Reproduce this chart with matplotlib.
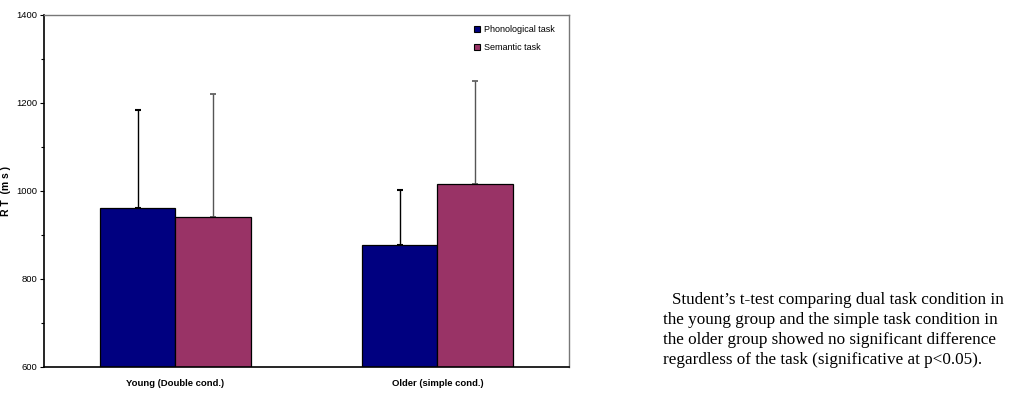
import matplotlib.pyplot as plt
import numpy as np

plt.rcParams['font.family'] = ['Liberation Sans Narrow', 'Liberation Sans', 'DejaVu Sans']

groups = ["Young (Double cond.)", "Older (simple cond.)"]
tasks = ["Phonological task", "Semantic task"]
rt_phono = [962, 877]
rt_sem = [942, 1016]
err_phono = [223, 126]
err_sem = [278, 234]

NAVY = "#000080"; PLUM = "#993366"

fig = plt.figure(figsize=(10.27, 4.0), dpi=100)
ax = fig.add_axes([0.0428, 0.0825, 0.5112, 0.88])

x = np.arange(len(groups))
w = 0.287
ax.bar(x - w / 2, rt_phono, w, bottom=0, color=NAVY, edgecolor="black", lw=0.9,
       label=tasks[0], zorder=2)
ax.bar(x + w / 2, rt_sem, w, bottom=0, color=PLUM, edgecolor="black", lw=0.9,
       label=tasks[1], zorder=2)
# upper-only error bars
ax.errorbar(x - w / 2, rt_phono, yerr=[np.zeros(2), err_phono], fmt="none",
            ecolor="black", elinewidth=1.0, capsize=2.5, capthick=1.5, zorder=1)
ax.errorbar(x + w / 2, rt_sem, yerr=[np.zeros(2), err_sem], fmt="none",
            ecolor="#555555", elinewidth=1.0, capsize=2.0, capthick=1.2, zorder=1)

ax.set_ylim(600, 1400)
ax.set_xlim(-0.502, 1.502)
ax.set_yticks(np.arange(600, 1401, 200))
ax.set_yticks(np.arange(700, 1400, 200), minor=True)
ax.tick_params(axis="y", which="major", length=3, width=0.8, labelsize=6.8, pad=2)
ax.tick_params(axis="y", which="minor", length=2, width=0.8)
ax.set_xticks(x)
ax.set_xticklabels(groups, fontsize=6.8, fontweight="bold")
ax.tick_params(axis="x", length=0, pad=9)

for s in ["top", "right"]:
    ax.spines[s].set_color("#777777")
    ax.spines[s].set_linewidth(1.0)
for s in ["left", "bottom"]:
    ax.spines[s].set_color("black")
    ax.spines[s].set_linewidth(1.2)

ax.set_ylabel("R T  (m s )", fontsize=7.5, fontweight="bold")
ax.yaxis.set_label_coords(-0.062, 0.5)

leg = ax.legend(loc="upper right", bbox_to_anchor=(0.988, 0.995), frameon=False,
                fontsize=6.5, handlelength=0.7, handleheight=0.7, handletextpad=0.4,
                labelspacing=1.0)
for h in leg.legend_handles:
    h.set_edgecolor("black"); h.set_linewidth(0.8)

note = ["Student\u2019s t-test comparing dual task condition in",
        "the young group and the simple task condition in",
        "the older group showed no significant difference",
        "regardless of the task (significative at p<0.05)."]
for i, line in enumerate(note):
    fig.text(672 / 1027 if i == 0 else 663 / 1027, 1 - (300 + 20 * i) / 400, line,
             fontsize=12.3, family=["Liberation Serif", "DejaVu Serif"], va="center", ha="left")

fig.savefig("out.png", dpi=100, facecolor="white")
